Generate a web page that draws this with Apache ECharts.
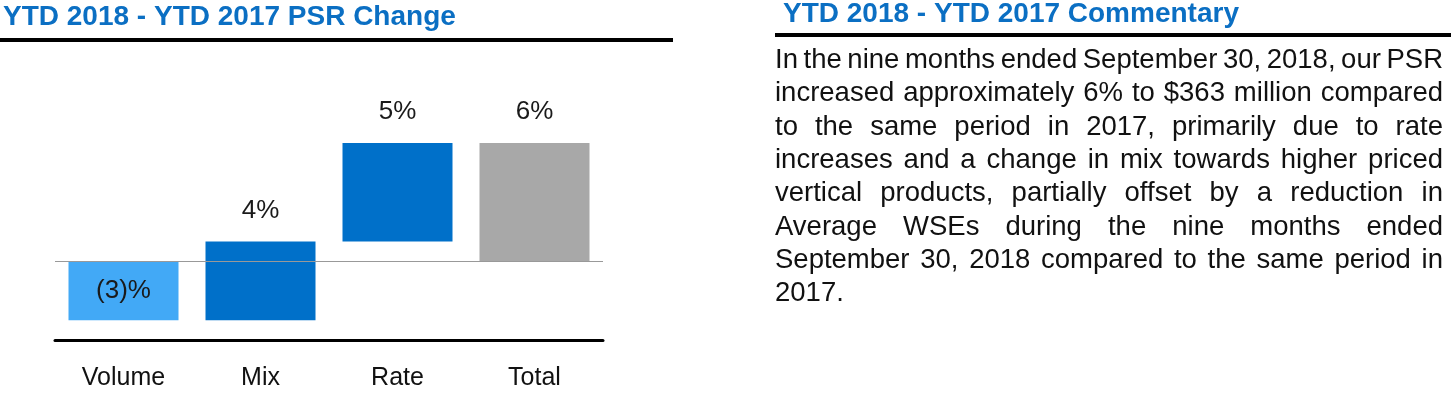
<!DOCTYPE html>
<html>
<head>
<meta charset="utf-8">
<script src="https://cdn.jsdelivr.net/npm/echarts@6/dist/echarts.min.js"></script>
<style>
  html, body { margin: 0; padding: 0; background: #fff; }
  #main { width: 1451px; height: 399px; }
</style>
</head>
<body>
<div id="main"></div>
<script>
// 数据
const categories = ['Volume', 'Mix', 'Rate', 'Total']
const changes = [-3, 4, 5, 6]          // 每一步的变化 (%)
const isTotal = [false, false, false, true]

const chartTitle = 'YTD 2018 - YTD 2017 PSR Change'
const noteTitle = 'YTD 2018 - YTD 2017 Commentary'
const noteLines = [
  'In the nine months ended September 30, 2018, our PSR',
  'increased approximately 6% to $363 million compared',
  'to the same period in 2017, primarily due to rate',
  'increases and a change in mix towards higher priced',
  'vertical products, partially offset by a reduction in',
  'Average WSEs during the nine months ended',
  'September 30, 2018 compared to the same period in',
  '2017.'
]

// 样式
const FONT = "'Liberation Sans', Arial, sans-serif"
const BLUE_TITLE = '#0B6FC3'
const barColors = ['#42A9F6', '#0070C9', '#0070C9', '#A8A8A8']

// 瀑布图：透明底座
let running = 0
const bases = changes.map((v, i) => {
  if (isTotal[i]) return 0
  const b = running
  running += v
  return b
})

const myChart = echarts.init(document.getElementById('main'))

// 两端对齐的说明文字
function buildNote() {
  const ctx = document.createElement('canvas').getContext('2d')
  const size = 27.5
  ctx.font = size + 'px ' + FONT
  const left = 775, right = 1443, top = 60.5, step = 33.3
  const items = []
  noteLines.forEach((line, li) => {
    const words = line.split(' ')
    const widths = words.map(w => ctx.measureText(w).width)
    const total = widths.reduce((a, b) => a + b, 0)
    const last = li === noteLines.length - 1
    const gap = (last || words.length < 2) ? ctx.measureText(' ').width
      : (right - left - total) / (words.length - 1)
    let x = left
    words.forEach((w, wi) => {
      items.push({
        type: 'text',
        silent: true,
        style: {
          text: w, x: x, y: top + li * step,
          fontSize: size, fontFamily: FONT, fill: '#111',
          verticalAlign: 'middle', align: 'left'
        }
      })
      x += widths[wi] + gap
    })
  })
  return items
}

const option = {
  animation: false,
  grid: { left: 55, width: 548, top: 143, height: 197 },
  xAxis: {
    type: 'category',
    data: categories,
    axisLine: { onZero: false, lineStyle: { color: '#000', width: 3 } },
    axisTick: { show: false },
    axisLabel: { fontSize: 25, color: '#111', fontFamily: FONT, margin: 26 }
  },
  yAxis: {
    type: 'value',
    min: -4,
    max: 6,
    show: false
  },
  series: [{
    name: 'base',
    type: 'bar',
    stack: 'w',
    stackStrategy: 'all',
    barWidth: 110,
    silent: true,
    itemStyle: { color: 'transparent' },
    data: bases
  }, {
    name: 'change',
    type: 'bar',
    stack: 'w',
    stackStrategy: 'all',
    barWidth: 110,
    data: changes.map((v, i) => ({
      value: v,
      itemStyle: { color: barColors[i] },
      label: { position: v < 0 ? 'inside' : 'top' }
    })),
    label: {
      show: true,
      fontSize: 26,
      color: '#1a1a1a',
      fontFamily: FONT,
      distance: 18,
      formatter: p => p.value < 0 ? '(' + Math.abs(p.value) + ')%' : p.value + '%'
    },
    markLine: {
      silent: true,
      symbol: 'none',
      label: { show: false },
      lineStyle: { color: '#999', width: 1, type: 'solid' },
      data: [{ yAxis: 0 }]
    }
  }],
  graphic: [{
    type: 'text',
    silent: true,
    style: {
      text: chartTitle, x: 3, y: 17,
      fontSize: 28, fontWeight: 'bold', fontFamily: FONT,
      fill: BLUE_TITLE, verticalAlign: 'middle'
    }
  }, {
    type: 'rect',
    silent: true,
    shape: { x: 0, y: 38, width: 673, height: 4 },
    style: { fill: '#000' }
  }, {
    type: 'text',
    silent: true,
    style: {
      text: noteTitle, x: 783, y: 14,
      fontSize: 28, fontWeight: 'bold', fontFamily: FONT,
      fill: BLUE_TITLE, verticalAlign: 'middle'
    }
  }, {
    type: 'rect',
    silent: true,
    shape: { x: 775, y: 33, width: 676, height: 4 },
    style: { fill: '#000' }
  }].concat(buildNote())
}

myChart.setOption(option)
window.addEventListener('resize', function () {
  myChart.resize()
})
</script>
</body>
</html>
